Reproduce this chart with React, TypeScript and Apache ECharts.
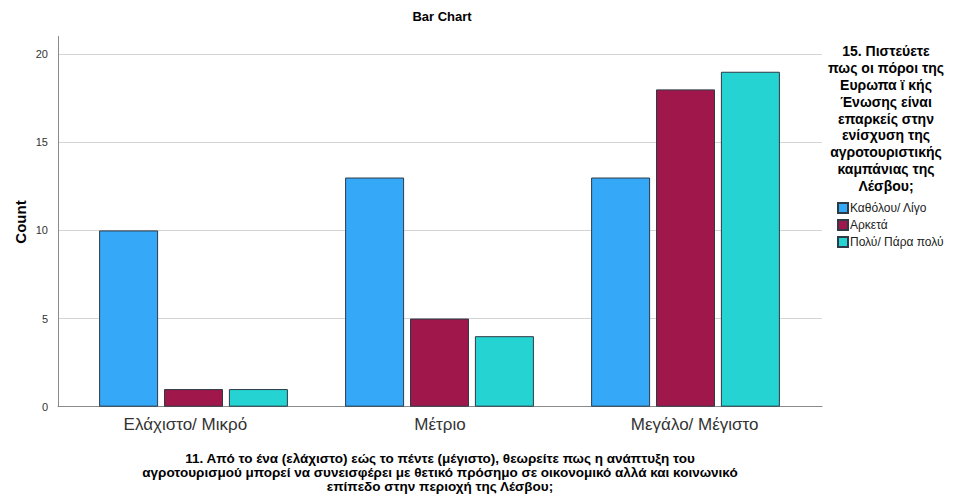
import React, { useEffect, useRef } from "react";
import * as echarts from "echarts";

const categories = ["Ελάχιστο/ Μικρό", "Μέτριο", "Μεγάλο/ Μέγιστο"];
const seriesNames = ["Καθόλου/ Λίγο", "Αρκετά", "Πολύ/ Πάρα πολύ"];
const valuesLittle = [10, 13, 13];
const valuesEnough = [1, 5, 18];
const valuesMuch = [1, 4, 19];
const colors = ["#35A8F7", "#A0174C", "#25D3D3"];
const legendTitle = [
  "15. Πιστεύετε",
  "πως οι πόροι της",
  "Ευρωπα ϊ κής",
  "Ένωσης είναι",
  "επαρκείς στην",
  "ενίσχυση της",
  "αγροτουριστικής",
  "καμπάνιας της",
  "Λέσβου;",
];
const xAxisTitle = [
  "11. Από το ένα (ελάχιστο) εώς το πέντε (μέγιστο), θεωρείτε πως η ανάπτυξη του",
  "αγροτουρισμού μπορεί να συνεισφέρει με θετικό πρόσημο σε οικονομικό αλλά και κοινωνικό",
  "επίπεδο στην περιοχή της Λέσβου;",
];

const FONT = "'Liberation Sans', Arial, sans-serif";

export default function App() {
  const ref = useRef<HTMLDivElement>(null);
  useEffect(() => {
    if (!ref.current) return;
    const chart = echarts.init(ref.current, undefined, { renderer: "svg" });
    const allValues = [valuesLittle, valuesEnough, valuesMuch];
    chart.setOption({
      animation: false,
      backgroundColor: "#ffffff",
      textStyle: { fontFamily: FONT },
      title: {
        text: "Bar Chart",
        left: 437,
        top: 5,
        textAlign: "center",
        textStyle: { fontSize: 13, fontWeight: "bold", color: "#000", fontFamily: FONT },
      },
      legend: {
        orient: "vertical",
        left: 832,
        top: 197,
        itemWidth: 10,
        itemHeight: 10,
        itemGap: 5,
        icon: "rect",
        data: seriesNames,
        textStyle: { fontSize: 12, lineHeight: 10, color: "#222", fontFamily: FONT, padding: [0, 0, 0, -3] },
      },
      grid: [
        { left: 58, right: 134, top: 36.5, bottom: 88.3 },
        { left: 70.5, right: 147.5, top: 36.5, bottom: 88.3 },
      ],
      xAxis: [
        {
          gridIndex: 0,
          type: "category",
          data: categories,
          axisLine: { show: true, lineStyle: { color: "#8a8a8a", width: 1 } },
          axisTick: { show: false },
          axisLabel: { fontSize: 17, color: "#333", margin: 9, fontFamily: FONT },
        },
        {
          gridIndex: 1,
          type: "category",
          data: categories,
          axisLine: { show: false },
          axisTick: { show: false },
          axisLabel: { show: false },
        },
      ],
      yAxis: [
        {
          gridIndex: 0,
          type: "value",
          min: 0,
          max: 21,
          interval: 5,
          axisLine: { show: true, lineStyle: { color: "#8a8a8a", width: 1 } },
          axisTick: { show: false },
          axisLabel: { fontSize: 11, color: "#333", margin: 10, showMaxLabel: false, fontFamily: FONT },
          splitLine: { show: true, showMaxLine: false, showMinLine: false, lineStyle: { color: "#d4d4d4", width: 1 } },
        },
        {
          gridIndex: 1,
          type: "value",
          min: 0,
          max: 21,
          interval: 5,
          show: false,
          splitLine: { show: false },
        },
      ],
      series: seriesNames.map((name, i) => ({
        name,
        type: "bar",
        xAxisIndex: 1,
        yAxisIndex: 1,
        data: allValues[i],
        barWidth: 59,
        barGap: "10%",
        itemStyle: { color: colors[i], borderColor: "#2e3a46", borderWidth: 1 },
      })),
      graphic: [
        {
          type: "text",
          rotation: Math.PI / 2,
          x: 20,
          y: 222,
          style: {
            text: "Count",
            fontSize: 15,
            fontWeight: "bold",
            fill: "#000",
            fontFamily: FONT,
            textAlign: "center",
            textVerticalAlign: "middle",
          },
        },
        {
          type: "text",
          x: 886,
          y: 43,
          style: {
            text: legendTitle.join("\n"),
            fontSize: 14,
            fontWeight: "bold",
            lineHeight: 16.8,
            fill: "#000",
            fontFamily: FONT,
            textAlign: "center",
            textVerticalAlign: "top",
          },
        },
        {
          type: "text",
          x: 440,
          y: 451,
          style: {
            text: xAxisTitle.join("\n"),
            fontSize: 13.5,
            fontWeight: "bold",
            lineHeight: 14,
            fill: "#000",
            fontFamily: FONT,
            textAlign: "center",
            textVerticalAlign: "top",
          },
        },
      ],
    });
    return () => chart.dispose();
  }, []);
  return <div ref={ref} style={{ width: 956, height: 495, position: "absolute", left: 0, top: 0 }} />;
}
